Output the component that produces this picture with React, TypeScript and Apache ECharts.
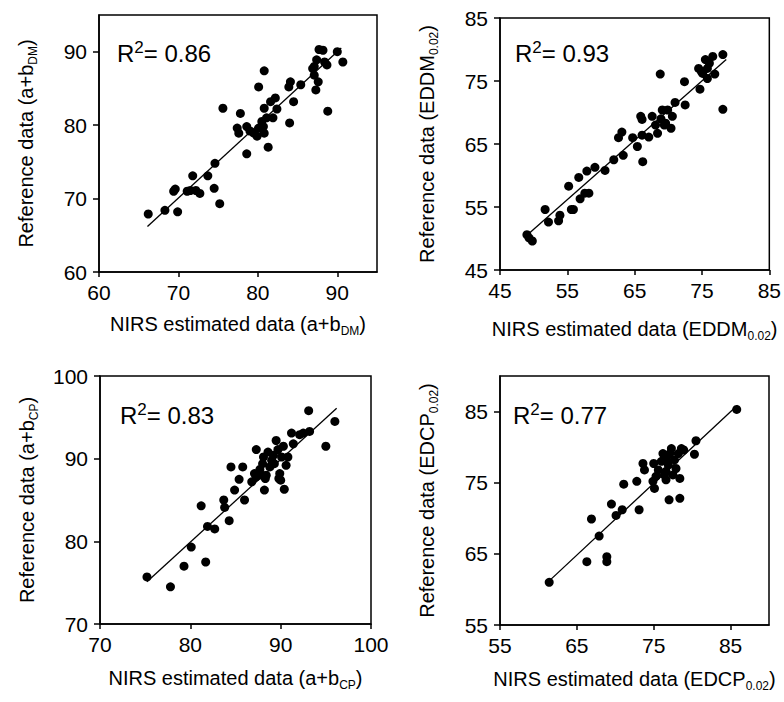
import React, { useEffect, useRef } from "react";
import * as echarts from "echarts";

// ---- Data ----
// Panel 1: a+b DM
const dmPoints: [number, number][] = [
  [66.2, 67.9], [68.3, 68.4], [69.9, 68.2], [69.4, 71.0], [69.6, 71.3], [71.1, 71.0],
  [71.8, 73.1], [71.5, 71.1], [72.2, 71.1], [72.7, 70.7], [73.7, 73.1], [74.5, 71.4],
  [74.6, 74.8], [75.2, 69.3], [75.6, 82.3], [77.8, 81.6], [77.4, 79.6], [77.6, 78.9],
  [78.6, 76.1], [78.6, 79.8], [79.0, 79.2], [79.5, 78.9], [80.1, 79.6], [79.9, 78.5],
  [80.5, 80.5], [80.7, 79.8], [80.8, 78.9], [81.3, 77.0], [80.1, 85.2], [80.8, 87.4],
  [80.8, 82.3], [81.6, 83.2], [82.2, 83.7], [82.4, 82.2], [81.9, 81.0], [81.1, 81.0],
  [84.0, 80.3], [83.9, 85.2], [84.1, 85.9], [84.5, 83.2], [85.4, 85.5], [86.9, 87.7],
  [87.3, 84.8], [87.1, 86.8], [87.7, 90.3], [88.2, 90.2], [88.4, 88.6], [87.6, 85.9],
  [88.8, 81.9], [88.7, 88.2], [90.0, 90.0], [90.7, 88.6], [87.1, 88.0], [87.4, 88.9],
];
const dmLine: [number, number][] = [[66.1, 66.2], [90.5, 90.5]];

// Panel 2: EDDM 0.02
const eddmPoints: [number, number][] = [
  [49.0, 50.6], [49.3, 50.1], [49.8, 49.6], [51.7, 54.6], [52.2, 52.6], [53.7, 52.8],
  [53.9, 53.7], [55.2, 58.3], [55.6, 54.6], [55.9, 54.6], [56.7, 59.7], [56.9, 56.3],
  [57.6, 57.2], [58.2, 57.2], [57.9, 60.7], [59.1, 61.3], [60.6, 60.8], [61.9, 62.5],
  [62.6, 66.0], [63.1, 66.9], [63.3, 63.2], [64.7, 66.0], [65.4, 64.6], [65.9, 69.4],
  [66.1, 68.9], [66.2, 62.2], [66.1, 66.4], [67.1, 66.1], [67.6, 69.4], [68.1, 68.0],
  [68.4, 66.7], [68.8, 76.1], [68.9, 69.0], [69.1, 70.4], [69.4, 68.0], [69.6, 68.3],
  [69.9, 70.4], [70.4, 67.5], [70.6, 69.4], [71.0, 71.6], [72.4, 74.9], [72.5, 71.2],
  [74.5, 77.0], [74.7, 73.7], [74.9, 76.5], [75.5, 78.4], [75.8, 77.0], [75.8, 75.4],
  [76.1, 77.8], [76.6, 78.9], [76.9, 76.1], [78.1, 79.2], [78.1, 70.5], [75.1, 76.2],
];
const eddmLine: [number, number][] = [[49.0, 50.5], [78.6, 78.4]];

// Panel 3: a+b CP
const cpPoints: [number, number][] = [
  [75.2, 75.7], [77.8, 74.5], [79.3, 77.0], [80.1, 79.3], [81.2, 84.3], [81.7, 77.5],
  [81.9, 81.8], [82.7, 81.5], [83.7, 85.0], [83.8, 84.1], [84.3, 82.5], [84.5, 89.0],
  [84.9, 86.2], [85.4, 87.5], [85.8, 89.0], [86.0, 85.0], [86.8, 87.2], [87.1, 88.2],
  [87.3, 91.1], [87.7, 88.7], [88.0, 89.4], [88.2, 86.2], [88.3, 87.6], [88.4, 88.0],
  [88.1, 90.2], [88.6, 90.8], [88.8, 89.0], [89.0, 89.8], [89.2, 90.4], [89.3, 89.4],
  [89.5, 92.2], [89.7, 91.1], [89.9, 88.2], [90.0, 87.4], [90.1, 90.2], [90.3, 91.5],
  [90.4, 86.3], [90.6, 89.2], [90.8, 90.2], [91.2, 93.1], [91.4, 91.8], [92.1, 92.9],
  [92.5, 93.1], [93.1, 95.8], [93.2, 93.3], [95.0, 91.5], [96.0, 94.5], [87.3, 87.8],
  [87.9, 88.0], [89.8, 87.6],
];
const cpLine: [number, number][] = [[75.2, 75.1], [96.2, 96.1]];

// Panel 4: EDCP 0.02
const edcpPoints: [number, number][] = [
  [61.4, 61.0], [66.3, 63.9], [68.9, 64.6], [68.9, 63.9], [67.9, 67.5], [66.9, 69.9],
  [69.5, 72.0], [70.1, 70.4], [70.9, 71.2], [71.1, 74.8], [72.8, 75.2], [73.1, 71.2],
  [73.6, 77.7], [73.8, 76.8], [75.0, 77.7], [74.9, 75.2], [75.1, 74.2], [75.6, 76.8],
  [76.0, 78.0], [76.2, 79.1], [76.4, 76.1], [76.6, 75.4], [76.9, 77.5], [77.0, 72.6],
  [77.1, 79.1], [77.3, 79.8], [77.5, 76.1], [77.7, 78.2], [77.9, 77.0], [78.2, 79.1],
  [78.4, 72.8], [78.4, 75.6], [78.6, 79.8], [78.9, 79.6], [80.3, 79.0], [80.5, 80.9],
  [85.8, 85.3], [75.3, 75.9], [76.6, 76.6], [76.7, 78.2],
];
const edcpLine: [number, number][] = [[61.3, 61.1], [85.9, 85.9]];

// Axis ranges and tick labels
const dmTicks = [60, 70, 80, 90];
const eddmTicks = [45, 55, 65, 75, 85];
const cpTicks = [70, 80, 90, 100];
const edcpTicks = [55, 65, 75, 85];
const r2Values = ["0.86", "0.93", "0.83", "0.77"];

const FONT = "'Liberation Sans', Arial, sans-serif";

const subRich = {
  s: { fontSize: 12, lineHeight: 11, verticalAlign: "bottom" as const, fontFamily: FONT, color: "#000" },
};

const nameStyle = {
  fontSize: 20,
  lineHeight: 26,
  fontFamily: FONT,
  color: "#000",
  rich: subRich,
};

export default function App() {
  const ref = useRef<HTMLDivElement>(null);
  useEffect(() => {
    document.body.style.margin = "0";
    const chart = echarts.init(ref.current!, null, { renderer: "svg" });

    const grids = [
      { left: 99, top: 15, width: 278, height: 257 },
      { left: 500, top: 18, width: 270, height: 252 },
      { left: 100, top: 376, width: 271, height: 248 },
      { left: 500, top: 376, width: 269, height: 249 },
    ];
    const ranges = [
      { x: [60, 95], y: [60, 95], xt: dmTicks, yt: dmTicks },
      { x: [45, 85], y: [45, 85], xt: eddmTicks, yt: eddmTicks },
      { x: [70, 100], y: [70, 100], xt: cpTicks, yt: cpTicks },
      { x: [55, 90], y: [55, 90], xt: edcpTicks, yt: edcpTicks },
    ];
    const xNames = [
      "NIRS estimated data (a+b{s|DM})",
      "NIRS estimated data (EDDM{s|0.02})",
      "NIRS estimated data (a+b{s|CP})",
      "NIRS estimated data (EDCP{s|0.02})",
    ];
    const yNames = [
      "Reference data (a+b{s|DM})",
      "Reference data (EDDM{s|0.02})",
      "Reference data (a+b{s|CP})",
      "Reference data (EDCP{s|0.02})",
    ];
    const xGaps = [39, 46, 41, 41];
    const yGaps = [60, 60, 60, 60];
    const pts = [dmPoints, eddmPoints, cpPoints, edcpPoints];
    const lines = [dmLine, eddmLine, cpLine, edcpLine];

    const axisCommon = {
      axisLine: { show: true, lineStyle: { color: "#000", width: 1.5 } },
      splitLine: { show: false },
    };

    const option: any = {
      animation: false,
      backgroundColor: "#fff",
      grid: grids.map((g) => ({
        ...g,
        show: true,
        borderColor: "#000",
        borderWidth: 1.5,
        backgroundColor: "transparent",
      })),
      xAxis: ranges.map((r, i) => ({
        type: "value",
        gridIndex: i,
        min: r.x[0],
        max: r.x[1],
        ...axisCommon,
        axisTick: { show: true, inside: false, length: 5, customValues: r.xt, lineStyle: { color: "#000", width: 1.5 } },
        axisLabel: { customValues: r.xt, fontSize: 21, fontFamily: FONT, color: "#000", margin: 10 },
        name: xNames[i],
        nameLocation: "middle",
        nameGap: xGaps[i],
        nameTextStyle: nameStyle,
      })),
      yAxis: ranges.map((r, i) => ({
        type: "value",
        gridIndex: i,
        min: r.y[0],
        max: r.y[1],
        ...axisCommon,
        axisTick: { show: true, inside: false, length: 6, customValues: r.yt, lineStyle: { color: "#000", width: 1.5 } },
        axisLabel: { customValues: r.yt, fontSize: 21, fontFamily: FONT, color: "#000", margin: 12 },
        name: yNames[i],
        nameLocation: "middle",
        nameRotate: 90,
        nameGap: yGaps[i],
        nameTextStyle: nameStyle,
      })),
      series: [
        ...pts.map((p, i) => ({
          type: "scatter",
          xAxisIndex: i,
          yAxisIndex: i,
          data: p,
          symbol: "circle",
          symbolSize: 9,
          itemStyle: { color: "#000", opacity: 1 },
          silent: true,
        })),
        ...lines.map((l, i) => ({
          type: "line",
          xAxisIndex: i,
          yAxisIndex: i,
          data: l,
          symbol: "none",
          lineStyle: { color: "#000", width: 1.3 },
          silent: true,
        })),
      ],
      graphic: [
        { x: 117, y: 53 },
        { x: 515, y: 53 },
        { x: 120, y: 415 },
        { x: 513, y: 415 },
      ].map((p, i) => ({
        type: "text",
        x: p.x,
        y: p.y,
        silent: true,
        style: {
          text: "R{sup|2}= " + r2Values[i],
          fontSize: 24,
          lineHeight: 28,
          fontFamily: FONT,
          fill: "#000",
          verticalAlign: "middle",
          rich: {
            sup: { fontSize: 17, lineHeight: 20, verticalAlign: "top", fontFamily: FONT, fill: "#000" },
          },
        },
      })),
    };
    chart.setOption(option);
    return () => chart.dispose();
  }, []);
  return <div ref={ref} style={{ width: 784, height: 702 }} />;
}
